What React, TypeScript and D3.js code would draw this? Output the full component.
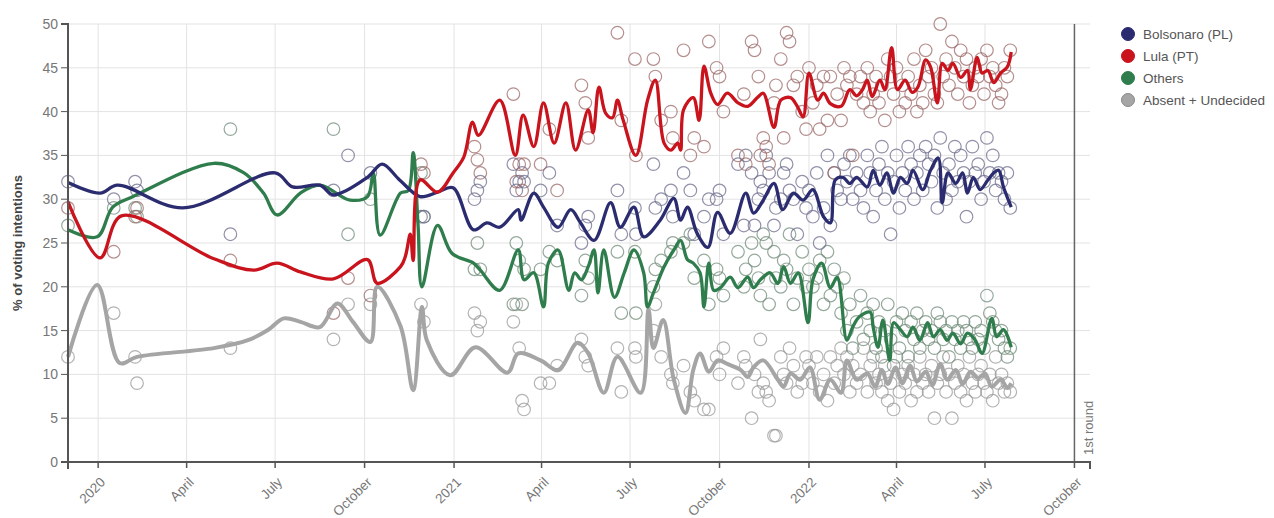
import React from "react";
import * as d3 from "d3";

// ---------- smoothed trend lines (date, %) ----------
const bolsonaroLine: [string, number][] = [
  ["2019-12-01", 31.9], ["2020-01-03", 30.7], ["2020-01-21", 31.6], ["2020-03-28", 29.0], ["2020-07-01", 33.0],
  ["2020-07-19", 31.4], ["2020-08-16", 31.6], ["2020-08-30", 30.5], ["2020-10-04", 32.5], ["2020-10-19", 34.0],
  ["2020-11-06", 32.2], ["2020-11-27", 30.3], ["2020-12-15", 30.8], ["2020-12-31", 31.3], ["2021-01-21", 26.5],
  ["2021-02-04", 27.3], ["2021-02-17", 26.8], ["2021-03-08", 28.8], ["2021-03-11", 27.6], ["2021-03-24", 30.7],
  ["2021-04-03", 29.1], ["2021-04-18", 26.8], ["2021-05-01", 28.8], ["2021-05-11", 27.3], ["2021-05-25", 25.3],
  ["2021-06-11", 29.6], ["2021-06-21", 26.8], ["2021-07-05", 29.1], ["2021-07-15", 25.7], ["2021-08-01", 27.6],
  ["2021-08-15", 30.1], ["2021-08-22", 27.6], ["2021-08-29", 29.1], ["2021-09-08", 26.1], ["2021-09-19", 24.5],
  ["2021-09-29", 28.5], ["2021-10-12", 26.1], ["2021-10-28", 30.7], ["2021-11-05", 28.4], ["2021-11-15", 29.9],
  ["2021-11-26", 31.8], ["2021-12-05", 28.8], ["2021-12-16", 30.7], ["2021-12-26", 29.9], ["2022-01-05", 31.1],
  ["2022-01-16", 28.0], ["2022-01-23", 27.3], ["2022-01-28", 32.2], ["2022-02-05", 32.5], ["2022-02-12", 31.8],
  ["2022-02-19", 32.5], ["2022-03-02", 31.4], ["2022-03-08", 33.3], ["2022-03-15", 31.6], ["2022-03-22", 33.0],
  ["2022-03-29", 30.7], ["2022-04-05", 32.5], ["2022-04-12", 31.8], ["2022-04-18", 33.3], ["2022-04-28", 31.1],
  ["2022-05-06", 33.3], ["2022-05-14", 34.7], ["2022-05-18", 29.6], ["2022-05-24", 33.0], ["2022-06-01", 31.8],
  ["2022-06-08", 33.0], ["2022-06-13", 30.7], ["2022-06-19", 32.5], ["2022-06-26", 31.1], ["2022-07-04", 32.2],
  ["2022-07-10", 33.0], ["2022-07-15", 33.3], ["2022-07-20", 31.4], ["2022-07-28", 29.1],
];

const lulaLine: [string, number][] = [
  ["2019-12-01", 29.7], ["2020-01-03", 23.3], ["2020-01-25", 28.1], ["2020-04-29", 23.2], ["2020-06-09", 21.9],
  ["2020-07-03", 22.7], ["2020-07-27", 21.7], ["2020-08-30", 20.9], ["2020-10-04", 23.1], ["2020-10-14", 20.4],
  ["2020-11-07", 22.3], ["2020-11-12", 23.5], ["2020-11-17", 26.0], ["2020-11-20", 23.0], ["2020-11-27", 32.2],
  ["2020-12-15", 30.8], ["2020-12-31", 33.0], ["2021-01-11", 34.8], ["2021-01-20", 38.8], ["2021-01-26", 37.3],
  ["2021-02-17", 41.3], ["2021-03-05", 35.0], ["2021-03-13", 39.6], ["2021-03-24", 36.0], ["2021-04-03", 41.0],
  ["2021-04-14", 36.4], ["2021-04-26", 41.0], ["2021-05-06", 35.6], ["2021-05-19", 40.2], ["2021-05-24", 37.6],
  ["2021-05-30", 42.8], ["2021-06-06", 39.8], ["2021-06-13", 39.3], ["2021-06-18", 41.3], ["2021-06-24", 39.0],
  ["2021-07-07", 35.0], ["2021-07-19", 41.3], ["2021-07-27", 43.6], ["2021-08-05", 36.4], ["2021-08-12", 35.6],
  ["2021-08-19", 36.4], ["2021-08-22", 35.6], ["2021-08-25", 40.2], ["2021-09-04", 41.6], ["2021-09-10", 39.0],
  ["2021-09-15", 45.2], ["2021-09-22", 42.1], ["2021-09-29", 40.8], ["2021-10-09", 42.1], ["2021-10-20", 41.0],
  ["2021-10-30", 40.6], ["2021-11-09", 41.6], ["2021-11-15", 42.1], ["2021-11-26", 38.2], ["2021-12-03", 41.3],
  ["2021-12-13", 41.6], ["2021-12-20", 40.6], ["2021-12-26", 39.4], ["2022-01-01", 44.4], ["2022-01-10", 41.3],
  ["2022-01-16", 42.1], ["2022-01-23", 40.9], ["2022-02-03", 40.6], ["2022-02-12", 42.5], ["2022-02-19", 41.8],
  ["2022-02-25", 42.5], ["2022-03-02", 43.6], ["2022-03-07", 41.7], ["2022-03-15", 43.6], ["2022-03-20", 42.5],
  ["2022-03-27", 47.3], ["2022-04-02", 42.5], ["2022-04-10", 43.6], ["2022-04-17", 42.2], ["2022-04-23", 42.8],
  ["2022-05-01", 45.9], ["2022-05-06", 45.1], ["2022-05-13", 41.0], ["2022-05-18", 45.5], ["2022-05-24", 44.7],
  ["2022-05-29", 45.5], ["2022-06-06", 43.9], ["2022-06-13", 44.7], ["2022-06-16", 42.5], ["2022-06-23", 46.2],
  ["2022-06-28", 44.4], ["2022-07-04", 44.7], ["2022-07-10", 43.3], ["2022-07-17", 44.4], ["2022-07-24", 45.1],
  ["2022-07-28", 46.8],
];

const othersLine: [string, number][] = [
  ["2019-12-01", 26.5], ["2019-12-31", 25.7], ["2020-01-16", 29.1], ["2020-02-06", 30.3], ["2020-04-29", 34.1],
  ["2020-05-30", 33.0], ["2020-06-19", 30.7], ["2020-07-03", 28.2], ["2020-07-27", 30.7], ["2020-08-16", 31.6],
  ["2020-09-16", 29.9], ["2020-10-04", 30.3], ["2020-10-10", 33.0], ["2020-10-17", 25.9], ["2020-11-07", 30.7],
  ["2020-11-15", 31.0], ["2020-11-20", 35.3], ["2020-11-25", 27.0], ["2020-11-29", 20.0], ["2020-12-15", 27.0],
  ["2020-12-30", 23.8], ["2021-01-21", 22.7], ["2021-01-28", 21.9], ["2021-02-17", 19.6], ["2021-03-08", 24.2],
  ["2021-03-14", 20.8], ["2021-03-24", 21.6], ["2021-04-03", 17.7], ["2021-04-08", 22.7], ["2021-04-18", 24.2],
  ["2021-04-29", 19.6], ["2021-05-05", 21.6], ["2021-05-12", 20.8], ["2021-05-19", 22.3], ["2021-05-25", 24.2],
  ["2021-05-29", 19.3], ["2021-06-04", 24.2], ["2021-06-15", 18.8], ["2021-06-25", 21.6], ["2021-07-05", 24.2],
  ["2021-07-15", 21.6], ["2021-07-19", 17.7], ["2021-07-25", 19.3], ["2021-08-05", 22.3], ["2021-08-15", 24.2],
  ["2021-08-22", 25.3], ["2021-08-29", 23.1], ["2021-09-04", 22.7], ["2021-09-11", 21.6], ["2021-09-15", 17.7],
  ["2021-09-20", 22.7], ["2021-09-25", 19.6], ["2021-10-02", 19.9], ["2021-10-12", 21.1], ["2021-10-20", 19.9],
  ["2021-10-30", 21.1], ["2021-11-05", 19.9], ["2021-11-12", 20.8], ["2021-11-22", 21.6], ["2021-11-30", 20.4],
  ["2021-12-06", 22.3], ["2021-12-13", 20.4], ["2021-12-21", 21.6], ["2021-12-31", 15.9], ["2022-01-05", 20.8],
  ["2022-01-14", 22.7], ["2022-01-23", 19.9], ["2022-01-30", 21.1], ["2022-02-09", 13.9], ["2022-02-15", 15.4],
  ["2022-02-22", 16.6], ["2022-03-05", 17.1], ["2022-03-08", 15.4], ["2022-03-13", 13.1], ["2022-03-18", 16.2],
  ["2022-03-25", 11.6], ["2022-03-29", 15.9], ["2022-04-05", 15.1], ["2022-04-12", 14.3], ["2022-04-18", 15.4],
  ["2022-04-25", 13.9], ["2022-05-03", 15.9], ["2022-05-09", 14.3], ["2022-05-16", 15.1], ["2022-05-23", 13.9],
  ["2022-05-29", 14.7], ["2022-06-06", 13.5], ["2022-06-13", 14.7], ["2022-06-21", 13.9], ["2022-06-28", 12.4],
  ["2022-07-08", 16.4], ["2022-07-13", 14.3], ["2022-07-20", 15.1], ["2022-07-28", 13.1],
];

const undecidedLine: [string, number][] = [
  ["2019-12-01", 12.0], ["2019-12-31", 20.2], ["2020-01-23", 11.3], ["2020-02-10", 12.0], ["2020-04-29", 13.0],
  ["2020-06-03", 13.9], ["2020-06-24", 15.1], ["2020-07-10", 16.4], ["2020-07-27", 16.0], ["2020-08-16", 15.4],
  ["2020-09-03", 18.1], ["2020-09-19", 16.0], ["2020-10-07", 13.7], ["2020-10-14", 20.0], ["2020-11-07", 15.5],
  ["2020-11-20", 8.2], ["2020-11-29", 17.7], ["2020-12-04", 13.9], ["2020-12-28", 9.9], ["2021-01-23", 13.1],
  ["2021-02-25", 10.2], ["2021-03-08", 12.4], ["2021-03-31", 11.6], ["2021-04-18", 10.5], ["2021-05-08", 13.6],
  ["2021-05-19", 12.4], ["2021-06-04", 7.9], ["2021-06-18", 12.0], ["2021-07-12", 7.9], ["2021-07-20", 17.4],
  ["2021-07-25", 13.0], ["2021-08-04", 16.2], ["2021-08-15", 9.4], ["2021-08-27", 5.6], ["2021-09-04", 10.5],
  ["2021-09-11", 12.4], ["2021-09-20", 10.3], ["2021-09-29", 11.6], ["2021-10-09", 11.2], ["2021-10-23", 10.5],
  ["2021-10-30", 9.7], ["2021-11-05", 10.8], ["2021-11-15", 11.6], ["2021-11-30", 9.4], ["2021-12-06", 8.6],
  ["2021-12-13", 10.1], ["2021-12-23", 9.4], ["2022-01-02", 10.8], ["2022-01-12", 7.1], ["2022-01-23", 9.4],
  ["2022-02-03", 7.9], ["2022-02-09", 11.6], ["2022-02-19", 9.4], ["2022-03-02", 10.1], ["2022-03-10", 8.6],
  ["2022-03-17", 10.5], ["2022-03-23", 8.9], ["2022-03-31", 10.8], ["2022-04-07", 9.0], ["2022-04-15", 11.0],
  ["2022-04-22", 9.2], ["2022-05-01", 10.3], ["2022-05-08", 8.8], ["2022-05-16", 11.2], ["2022-05-23", 9.4],
  ["2022-06-01", 10.5], ["2022-06-08", 8.9], ["2022-06-16", 10.3], ["2022-06-24", 9.6], ["2022-07-01", 10.1],
  ["2022-07-08", 8.6], ["2022-07-17", 9.4], ["2022-07-24", 8.5], ["2022-07-28", 9.0],
];

// ---------- individual polls ----------
const pollDates: string[] = [
  "2019-12-01", "2020-01-17", "2020-02-08", "2020-02-10", "2020-05-16", "2020-08-30", "2020-09-14", "2020-10-07", "2020-11-28", "2020-12-01",
  "2021-01-22", "2021-01-25", "2021-01-28", "2021-03-03", "2021-03-06", "2021-03-09", "2021-03-12", "2021-03-14", "2021-03-31", "2021-04-09",
  "2021-04-17", "2021-05-12", "2021-05-16", "2021-05-19", "2021-06-18", "2021-06-22", "2021-07-06", "2021-07-07", "2021-07-25", "2021-07-27",
  "2021-08-02", "2021-08-12", "2021-08-14", "2021-08-25", "2021-09-01", "2021-09-05", "2021-09-15", "2021-09-20", "2021-09-28", "2021-10-01",
  "2021-10-05", "2021-10-20", "2021-10-26", "2021-10-28", "2021-11-03", "2021-11-06", "2021-11-10", "2021-11-12", "2021-11-15", "2021-11-18",
  "2021-11-21", "2021-11-26", "2021-11-28", "2021-12-03", "2021-12-06", "2021-12-09", "2021-12-12", "2021-12-16", "2021-12-20", "2021-12-25",
  "2021-12-29",
  "2022-01-01", "2022-01-05", "2022-01-09", "2022-01-12", "2022-01-16", "2022-01-20", "2022-01-23", "2022-01-27", "2022-01-30",
  "2022-02-03", "2022-02-06", "2022-02-09", "2022-02-12", "2022-02-15", "2022-02-19", "2022-02-23", "2022-02-26",
  "2022-03-02", "2022-03-05", "2022-03-08", "2022-03-11", "2022-03-14", "2022-03-17", "2022-03-20", "2022-03-23", "2022-03-26", "2022-03-29",
  "2022-04-01", "2022-04-04", "2022-04-07", "2022-04-10", "2022-04-13", "2022-04-16", "2022-04-19", "2022-04-22", "2022-04-25", "2022-04-28",
  "2022-05-01", "2022-05-04", "2022-05-07", "2022-05-10", "2022-05-13", "2022-05-16", "2022-05-19", "2022-05-22", "2022-05-25", "2022-05-28", "2022-05-31",
  "2022-06-03", "2022-06-06", "2022-06-09", "2022-06-12", "2022-06-15", "2022-06-18", "2022-06-21", "2022-06-24", "2022-06-27", "2022-06-30",
  "2022-07-03", "2022-07-06", "2022-07-09", "2022-07-12", "2022-07-15", "2022-07-18", "2022-07-21", "2022-07-24", "2022-07-27",
];
const pollBolsonaro: number[] = [
  32, 30, 32, 31, 26, 31, 35, 33, 28, 28,
  30, 31, 32, 34, 31, 32, 33, 32, 31, 33, 27, 25, 27, 28, 31, 26, 29, 26, 34, 29, 30, 31, 28, 33, 31, 26, 28, 30, 30, 31,
  26, 34, 27, 35, 33, 27, 30, 32, 31, 35, 33, 27, 29, 30, 33, 34, 31, 30, 26, 32, 29,
  31, 28, 33, 25, 29, 35, 27, 33, 31, 30, 34, 32, 35, 30, 33, 31, 29,
  35, 33, 28, 31, 34, 36, 30, 33, 26, 32, 35, 29, 33, 31, 36, 34, 30, 33, 35, 31,
  36, 34, 32, 35, 29, 37, 33, 30, 34, 31, 36, 32, 35, 33, 28, 32, 36, 33, 34, 30, 32,
  37, 33, 35, 31, 33, 32, 30, 33, 29,
];
const pollLula: number[] = [
  29, 24, 28, 29, 23, 17, 21, 19, 34, 33,
  36, 34.5, 33, 42, 32, 34, 31, 34, 34, 38, 31, 43, 41, 37, 49, 39, 46, 35, 46, 44, 39, 40, 37, 47, 35, 37, 36, 48, 45, 44,
  40, 35, 42, 34, 48, 47, 44, 35, 37, 36, 34, 41, 43, 46, 37, 49, 48, 43, 44, 40, 38,
  45, 41, 43, 38, 44, 39, 44, 33, 42, 39, 45, 43, 44, 35, 42, 44, 41,
  45, 40, 42, 44, 41, 43, 39, 46, 44, 42, 45, 40, 43, 41, 44, 42, 46, 40, 43, 41,
  47, 44, 45, 42, 41, 50, 44, 46, 43, 48, 45, 42, 47, 44, 46, 41, 43, 45, 44, 46, 42,
  47, 44, 45, 43, 41, 42, 45, 44, 47,
];
const pollOthers: number[] = [
  27, 29, 29, 28, 38, 38, 26, 30, 33, 28,
  22, 25, 22, 18, 25, 23, 18, 22, 22, 24, 23, 19, 23, 21, 24, 17, 24, 17, 20, 22, 23, 24, 25, 25, 26, 21, 23, 18, 22, 21,
  19, 24, 20, 22, 25, 23, 21, 19, 26, 25, 18, 24, 21, 20, 23, 22, 26, 18, 21, 24, 20,
  22, 20, 21, 23, 18, 24, 19, 22, 20, 17, 21, 15, 18, 13, 16, 19, 14,
  17, 15, 18, 13, 16, 12, 15, 18, 14, 11, 16, 13, 17, 15, 12, 16, 14, 17, 13, 15,
  16, 14, 15, 13, 17, 16, 14, 15, 12, 16, 14, 15, 13, 16, 15, 14, 13, 16, 14, 15, 13,
  19, 17, 16, 15, 14, 15, 13, 12, 13,
];
const pollUndecided: number[] = [
  12, 17, 12, 9, 13, 14, 18, 18, 18, 16,
  17, 15, 16, 16, 18, 13, 7, 6, 9, 9, 11, 14, 12, 11, 13, 8, 13, 12, 15, 18, 12, 10, 9, 11, 8, 7, 6, 6, 12, 10,
  13, 9, 12, 11, 5, 10, 8, 14, 9, 8, 7, 3, 3, 12, 10, 9, 13, 11, 8, 9, 12,
  11, 9, 12, 8, 10, 7, 12, 9, 11, 13, 10, 12, 8, 11, 9, 10, 13,
  8, 11, 12, 9, 10, 8, 11, 7, 9, 6, 12, 8, 10, 9, 11, 7, 10, 8, 12, 9,
  10, 8, 11, 5, 9, 10, 12, 8, 10, 5, 9, 11, 8, 10, 7, 12, 9, 8, 10, 11, 9,
  8, 10, 7, 12, 9, 10, 8, 9, 8,
];

// ---------- series meta ----------
const seriesNames = ["Bolsonaro (PL)", "Lula (PT)", "Others", "Absent + Undecided"];
const seriesColors = ["#2b2c70", "#c9141d", "#2f7d4c", "#a5a5a5"];
const pollStrokes = ["#6c6c8c", "#9c6868", "#728c7a", "#9a9a9a"];

const yTicks = [0, 5, 10, 15, 20, 25, 30, 35, 40, 45, 50];
const xDomain = ["2019-12-01", "2022-10-17"];
const firstRoundDate = "2022-10-01";

export default function App() {
  const left = 68, right = 1090, top = 24, bottom = 462;
  const x = d3.scaleUtc().domain(xDomain.map((d) => new Date(d))).range([left, right]);
  const y = d3.scaleLinear().domain([0, 50]).range([bottom, top]);
  const xTicks = d3.utcMonth.every(3)!.range(new Date("2020-01-01"), new Date("2022-10-02"));
  const fmt = (d: Date) => (d.getUTCMonth() === 0 ? d3.utcFormat("%Y")(d) : d3.utcFormat("%B")(d));

  const line = d3
    .line<[string, number]>()
    .x((d) => x(new Date(d[0])))
    .y((d) => y(d[1]))
    .curve(d3.curveCatmullRom.alpha(0.5));

  const lines = [bolsonaroLine, lulaLine, othersLine, undecidedLine];
  const lineWidths = [3.3, 3.3, 3.3, 4];
  const pollSeries = [pollBolsonaro, pollLula, pollOthers, pollUndecided];
  const drawOrder = [3, 2, 0, 1];
  const n = Math.min(pollDates.length, ...pollSeries.map((s) => s.length));

  const font = "Arial, 'Liberation Sans', Helvetica, sans-serif";

  return (
    <svg width={1274} height={518} style={{ position: "absolute", left: 0, top: 0, fontFamily: font }}>
      <rect width={1274} height={518} fill="#fff" />
      {/* grid */}
      {yTicks.map((t) => (
        <line key={"gy" + t} x1={left} x2={right} y1={y(t)} y2={y(t)} stroke="#e3e3e3" strokeWidth={1} />
      ))}
      {xTicks.map((t, i) => (
        <line key={"gx" + i} x1={x(t)} x2={x(t)} y1={top} y2={bottom} stroke="#e3e3e3" strokeWidth={1} />
      ))}
      {/* 1st round marker */}
      <line x1={x(new Date(firstRoundDate))} x2={x(new Date(firstRoundDate))} y1={top} y2={bottom} stroke="#666" strokeWidth={1.5} />
      <text
        transform={`translate(${x(new Date(firstRoundDate)) + 19},${bottom - 7}) rotate(-90)`}
        fontSize={13}
        fill="#777"
      >
        1st round
      </text>
      {/* polls */}
      <g>
        {[3, 2, 0, 1].map((si) =>
          d3.range(n).map((i) => (
            <circle
              key={`p${si}-${i}`}
              cx={x(new Date(pollDates[i]))}
              cy={y(pollSeries[si][i])}
              r={6.3}
              fill="none"
              stroke={pollStrokes[si]}
              strokeOpacity={0.75}
              strokeWidth={1.2}
            />
          ))
        )}
      </g>
      {/* trend lines */}
      {drawOrder.map((si) => (
        <path key={"l" + si} d={line(lines[si]) || ""} fill="none" stroke={seriesColors[si]} strokeWidth={lineWidths[si]} strokeLinejoin="round" />
      ))}
      {/* axes */}
      <g>
        <path d={`M${left - 7},${top}H${left}V${bottom}H${left - 7}`} fill="none" stroke="#555" strokeWidth={2} />
        {yTicks.map((t) => (
          <g key={"yt" + t}>
            <line x1={left - 7} x2={left} y1={y(t)} y2={y(t)} stroke="#555" strokeWidth={1} />
            <text x={left - 10} y={y(t)} dy="0.35em" textAnchor="end" fontSize={14} fill="#777">
              {t}
            </text>
          </g>
        ))}
        <path d={`M${left},${bottom + 7}V${bottom}H${right}V${bottom + 7}`} fill="none" stroke="#555" strokeWidth={2} />
        {xTicks.map((t, i) => (
          <g key={"xt" + i}>
            <line x1={x(t)} x2={x(t)} y1={bottom} y2={bottom + 6} stroke="#555" strokeWidth={1.5} />
            <text transform={`translate(${x(t) + 8},${bottom + 21}) rotate(-45)`} textAnchor="end" fontSize={13.5} fill="#777">
              {fmt(t)}
            </text>
          </g>
        ))}
        <text transform={`translate(22,${(top + bottom) / 2}) rotate(-90)`} textAnchor="middle" fontSize={13} fontWeight="bold" fill="#444">
          % of voting intentions
        </text>
      </g>
      {/* legend */}
      {seriesNames.map((name, i) => (
        <g key={"lg" + i} transform={`translate(1128,${34 + i * 22})`}>
          <circle r={6.5} fill={seriesColors[i]} stroke={i === 3 ? "#888" : seriesColors[i]} strokeWidth={1} />
          <text x={15} dy="0.35em" fontSize={13.5} fill="#555">
            {name}
          </text>
        </g>
      ))}
    </svg>
  );
}
